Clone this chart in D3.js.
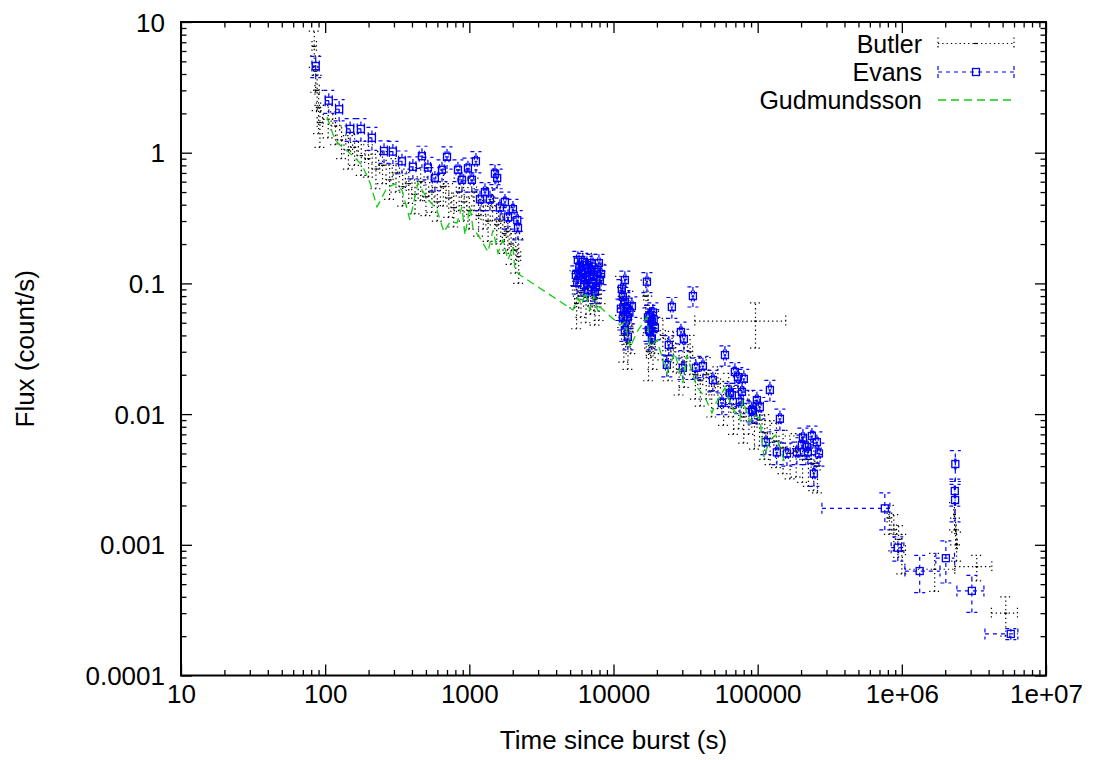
<!DOCTYPE html>
<html>
<head>
<meta charset="utf-8">
<script src="https://cdn.jsdelivr.net/npm/d3@7"></script>
<style>
  body { margin: 0; background: #fff; }
  svg text { font-family: "Liberation Sans", Arial, sans-serif; fill: #000; }
</style>
</head>
<body>
<svg id="chart" width="1098" height="760"></svg>
<script>
// ---- Axis ticks -------------------------------------------------------
const xTickValues = [10, 100, 1000, 10000, 100000, 1e6, 1e7];
const xTickLabels = ["10", "100", "1000", "10000", "100000", "1e+06", "1e+07"];
const yTickValues = [1e-4, 1e-3, 1e-2, 0.1, 1, 10];
const yTickLabels = ["0.0001", "0.001", "0.01", "0.1", "1", "10"];

const seriesNames = ["Butler", "Evans", "Gudmundsson"];

// ---- Light-curve data: [time (s), time error, flux (count/s), flux error]
// An error given as [minus, plus] is asymmetric.
const evans = [
  [86, 5, 4.6, 0.85], [106, 6, 2.5, 0.5], [125, 7, 2.15, 0.4], [149, 9, 1.52, 0.3],
  [177, 10, 1.52, 0.3], [211, 12, 1.3, 0.26], [256, 14, 1.03, 0.2], [295, 16, 1.02, 0.2],
  [341, 18, 0.86, 0.17], [406, 20, 0.78, 0.15], [469, 20, 0.94, 0.18], [516, 22, 0.77, 0.15],
  [577, 22, 0.64, 0.13], [646, 24, 0.74, 0.14], [700, 22, 0.93, 0.18], [834, 26, 0.74, 0.14],
  [889, 26, 0.62, 0.12], [978, 28, 0.76, 0.15], [1042, 28, 0.62, 0.12], [1111, 26, 0.86, 0.16],
  [1186, 30, 0.44, 0.08], [1284, 30, 0.5, 0.09], [1390, 32, 0.44, 0.08], [1506, 30, 0.69, 0.12],
  [1560, 30, 0.64, 0.11], [1630, 35, 0.38, 0.07], [1766, 36, 0.42, 0.08], [1854, 40, 0.32, 0.06],
  [2007, 40, 0.37, 0.07], [2150, 40, 0.305, 0.055], [2174, 45, 0.265, 0.05],
  // second orbit
  [5480, 110, 0.116, 0.02], [5600, 100, 0.101, 0.018], [5660, 110, 0.151, 0.025],
  [5800, 100, 0.134, 0.022], [5940, 120, 0.12, 0.02], [6050, 110, 0.125, 0.021],
  [6130, 110, 0.146, 0.024], [6250, 120, 0.097, 0.017], [6330, 110, 0.106, 0.018],
  [6540, 120, 0.138, 0.023], [6650, 120, 0.089, 0.016], [6700, 110, 0.131, 0.022],
  [6860, 130, 0.112, 0.019], [6950, 120, 0.128, 0.021], [7080, 130, 0.143, 0.024],
  [7190, 120, 0.101, 0.018], [7300, 130, 0.115, 0.02], [7430, 130, 0.086, 0.016],
  [7550, 140, 0.094, 0.017], [7670, 140, 0.122, 0.021], [7920, 150, 0.143, 0.024],
  [8050, 150, 0.106, 0.018], [8200, 150, 0.118, 0.02],
  // third orbit
  [11250, 200, 0.064, 0.012], [11430, 200, 0.091, 0.016], [11610, 220, 0.079, 0.014],
  [11610, 220, 0.054, 0.01], [11990, 220, 0.106, 0.018], [11990, 220, 0.072, 0.013],
  [11990, 230, 0.044, 0.008], [12380, 230, 0.065, 0.012], [12580, 240, 0.055, 0.01],
  [12580, 240, 0.039, 0.008], [12900, 240, 0.06, 0.011], [13420, 250, 0.067, 0.012],
  // fourth orbit
  [17060, 300, 0.103, 0.018], [17340, 300, 0.055, 0.01], [17620, 320, 0.044, 0.008],
  [17880, 320, 0.057, 0.011], [17880, 320, 0.0425, 0.008], [18460, 340, 0.051, 0.009],
  [18460, 340, 0.038, 0.007], [18750, 340, 0.06, 0.011], [19000, 350, 0.053, 0.01],
  [19360, 360, 0.046, 0.009],
  // later orbits
  [23440, 500, 0.0238, 0.0045], [24200, 500, 0.0338, 0.006], [25400, 550, 0.066, 0.012],
  [29360, 600, 0.0425, 0.008], [30270, 650, 0.0226, 0.0042], [30770, 650, 0.0376, 0.007],
  [35550, 800, 0.08, 0.014], [37300, 800, 0.0226, 0.0042], [41700, 900, 0.0233, 0.0043],
  [48900, 1100, 0.0182, 0.0034], [56500, 1300, 0.0122, 0.0023], [59300, 1300, 0.0283, 0.005],
  [64100, 1400, 0.0145, 0.0027], [66200, 1500, 0.014, 0.0026], [69500, 1500, 0.021, 0.0038],
  [72900, 1600, 0.0192, 0.0035], [75300, 1700, 0.0124, 0.0023], [77800, 1700, 0.0148, 0.0027],
  [80200, 1800, 0.0186, 0.0034], [91200, 2000, 0.0107, 0.002], [92700, 2000, 0.0104, 0.002],
  [98800, 2200, 0.0128, 0.0024], [103500, 2300, 0.0113, 0.0021], [114000, 2500, 0.0061, 0.0012],
  [121600, 2700, 0.0153, 0.0028], [135900, 3000, 0.0051, 0.001], [142600, 3200, 0.0092, 0.0017],
  [159600, 3500, 0.005, 0.001], [187100, 4000, 0.0051, 0.001], [202600, 4500, 0.0058, 0.0011],
  [206000, 4500, 0.0066, 0.0012], [219500, 4800, 0.0056, 0.0011], [222900, 4800, 0.0051, 0.001],
  [237800, 5000, 0.0068, 0.0013], [245400, 5000, 0.0035, 0.0007], [257500, 5500, 0.0061, 0.0012],
  [266000, 5500, 0.005, 0.001],
  // late time
  [762000, [483000, 64000], 0.0019, 0.0006], [938000, 95000, 0.00095, 0.0002],
  [1330000, [280000, 510000], 0.00063, 0.0002], [2020000, 300000, 0.00079, 0.00028],
  [2330000, 20000, 0.00258, 0.0006], [2340000, 20000, 0.0022, 0.0007],
  [2350000, 20000, 0.00415, 0.0011], [3060000, 650000, 0.000444, 0.00014],
  [5700000, [1930000, 680000], 0.000208, 0.00002]
];

const butler = [
  [84, 3, 6.5, 2.0], [86, 3, 4.2, 1.3], [88, 3, 3.0, 0.9], [90, 3, 2.2, 0.8],
  [92, 4, 1.7, 0.6], [105, 8, 1.8, 0.5], [118, 8, 1.6, 0.45], [130, 9, 1.25, 0.35],
  [145, 10, 1.05, 0.3], [160, 10, 1.1, 0.3], [178, 12, 0.95, 0.28], [200, 12, 0.9, 0.25],
  [225, 14, 0.75, 0.22], [250, 15, 0.8, 0.22], [280, 16, 0.62, 0.18], [310, 18, 0.7, 0.2],
  [345, 20, 0.55, 0.16], [380, 20, 0.58, 0.17], [420, 22, 0.48, 0.14], [460, 25, 0.6, 0.17],
  [500, 25, 0.46, 0.13], [550, 28, 0.5, 0.15], [600, 30, 0.42, 0.12], [660, 30, 0.55, 0.16],
  [720, 35, 0.45, 0.13], [780, 35, 0.38, 0.11], [850, 38, 0.5, 0.14], [920, 40, 0.42, 0.12],
  [1000, 40, 0.36, 0.1], [1080, 42, 0.5, 0.14], [1160, 45, 0.33, 0.1], [1250, 45, 0.36, 0.1],
  [1350, 48, 0.3, 0.09], [1450, 50, 0.42, 0.12], [1550, 50, 0.28, 0.08], [1650, 55, 0.3, 0.09],
  [1750, 55, 0.24, 0.07], [1850, 60, 0.25, 0.07], [1950, 60, 0.2, 0.06], [2100, 65, 0.18, 0.06],
  [2200, 70, 0.16, 0.06],
  [5400, 180, 0.095, 0.03], [5550, 180, 0.07, 0.025], [5700, 190, 0.12, 0.04],
  [5950, 200, 0.085, 0.03], [6200, 200, 0.11, 0.035], [6450, 210, 0.078, 0.028],
  [6600, 210, 0.13, 0.04], [6700, 220, 0.1, 0.033], [6950, 230, 0.088, 0.03],
  [7200, 230, 0.115, 0.037], [7350, 240, 0.092, 0.03], [7450, 240, 0.075, 0.027],
  [7700, 250, 0.098, 0.032], [7950, 260, 0.082, 0.03], [8200, 270, 0.105, 0.035],
  [11200, 400, 0.085, 0.028], [11600, 400, 0.07, 0.024], [11800, 420, 0.04, 0.015],
  [12000, 420, 0.06, 0.02], [12400, 440, 0.052, 0.018], [12600, 440, 0.035, 0.013],
  [12800, 450, 0.065, 0.022], [13200, 460, 0.045, 0.016],
  [16800, 600, 0.08, 0.026], [17300, 600, 0.06, 0.02], [17500, 620, 0.03, 0.012],
  [17800, 620, 0.05, 0.018], [18300, 650, 0.042, 0.015], [18800, 650, 0.035, 0.013],
  [19300, 680, 0.045, 0.016],
  [22000, 900, 0.04, 0.014], [24000, 1000, 0.028, 0.01], [26000, 1000, 0.032, 0.011],
  [28500, 1200, 0.022, 0.008], [31000, 1200, 0.025, 0.009], [34000, 1400, 0.03, 0.01],
  [37000, 1500, 0.02, 0.007], [40000, 1600, 0.018, 0.0065], [44000, 1800, 0.02, 0.007],
  [48000, 2000, 0.015, 0.0055], [53000, 2200, 0.017, 0.006], [58000, 2400, 0.013, 0.0048],
  [63000, 2600, 0.015, 0.0055], [68000, 2800, 0.011, 0.004], [74000, 3000, 0.012, 0.0043],
  [80000, 3300, 0.0095, 0.0035], [87000, 3600, 0.011, 0.004], [95000, 4000, 0.0085, 0.0031],
  [96600, 60000, 0.0515, 0.0195],
  [103000, 4300, 0.009, 0.0033], [112000, 4600, 0.0072, 0.0027], [122000, 5000, 0.0065, 0.0024],
  [135000, 5500, 0.0062, 0.0023], [150000, 6000, 0.0055, 0.002], [168000, 7000, 0.005, 0.0018],
  [185000, 7500, 0.0052, 0.0019], [205000, 8500, 0.0048, 0.0018], [225000, 9000, 0.0045, 0.0017],
  [245000, 10000, 0.0042, 0.0016], [260000, 11000, 0.004, 0.0015],
  [820000, 30000, 0.0016, 0.0004], [880000, 40000, 0.0013, 0.0004],
  [950000, 50000, 0.0011, 0.0003], [1000000, 60000, 0.0009, 0.0003],
  [1690000, 640000, 0.00065, 0.00021], [2320000, 30000, 0.0017, 0.0004],
  [2360000, 30000, 0.0013, 0.0003], [2400000, 30000, 0.001, 0.00025],
  [3310000, [980000, 900000], 0.00068, 0.00015], [5260000, 1080000, 0.0003, 0.0001]
];

// ---- Model curve: [time (s), flux (count/s)]
const gudmundsson = [
  [103, 1.875], [117, 1.251], [127, 1.145], [156, 0.944], [180, 0.805], [205, 0.586],
  [229, 0.385], [268, 0.537], [305, 0.576], [341, 0.518], [387, 0.306], [440, 0.586],
  [508, 0.45], [596, 0.365], [667, 0.247], [734, 0.295], [821, 0.29], [889, 0.385],
  [933, 0.234], [1010, 0.385], [1059, 0.265], [1186, 0.222], [1347, 0.174], [1459, 0.256],
  [1580, 0.171], [1710, 0.215], [1853, 0.151], [2006, 0.19], [2072, 0.127], [2244, 0.116],
  [5224, 0.0626], [5663, 0.0773], [6040, 0.0684], [6340, 0.0859], [6860, 0.0626],
  [7310, 0.0801], [7800, 0.0604], [8050, 0.066], [11070, 0.0481], [11990, 0.0507],
  [13000, 0.0321], [14530, 0.0425], [17060, 0.0553], [17880, 0.0326], [20000, 0.0369],
  [23440, 0.0206], [26650, 0.0294], [30270, 0.0173], [32290, 0.0283], [37880, 0.0161],
  [43030, 0.0135], [48170, 0.0102], [50510, 0.01175], [59290, 0.01585], [66240, 0.01132],
  [75340, 0.00916], [78900, 0.0128], [88300, 0.0087], [92700, 0.00984], [103600, 0.00933],
  [110400, 0.0047], [121600, 0.00634], [133700, 0.00692], [154400, 0.00423]
];

// ---- Layout ------------------------------------------------------------
const W = 1098, H = 760;
const plot = { left: 181, right: 1046, top: 22, bottom: 675.5 };
const fontSize = 26;
const legendFontSize = 25;
const colors = { butler: "#000000", evans: "#0000ff", gudmundsson: "#11cc11" };

const svg = d3.select("#chart");
svg.append("rect").attr("width", W).attr("height", H).attr("fill", "#fff");

const x = d3.scaleLog().domain([10, 1e7]).range([plot.left, plot.right]);
const y = d3.scaleLog().domain([1e-4, 10]).range([plot.bottom, plot.top]);

// minor tick positions: 2..9 within each decade
function minorTicks(domain) {
  const out = [];
  for (let e = Math.round(Math.log10(domain[0])); e < Math.round(Math.log10(domain[1])); e++) {
    for (let k = 2; k <= 9; k++) out.push(k * Math.pow(10, e));
  }
  return out;
}

const axesG = svg.append("g");

function addAxis(axisFn, scale, values, size, transform, labels) {
  const a = axisFn(scale).tickValues(values).tickSize(-size)
    .tickFormat((d, i) => labels ? labels[i] : "");
  const g = axesG.append("g").attr("transform", transform).call(a);
  g.select(".domain").remove();
  g.selectAll(".tick line").attr("stroke", "#000").attr("stroke-width", 1.3);
  g.selectAll(".tick text").attr("font-size", fontSize)
    .attr("font-family", '"Liberation Sans", Arial, sans-serif');
  return g;
}

// bottom / top
const gx = addAxis(d3.axisBottom, x, xTickValues, 11, `translate(0,${plot.bottom})`, xTickLabels);
gx.selectAll(".tick text").attr("y", 27.5).attr("dy", null);
addAxis(d3.axisBottom, x, minorTicks(x.domain()), 5.5, `translate(0,${plot.bottom})`, null);
addAxis(d3.axisTop, x, xTickValues, 11, `translate(0,${plot.top})`, null);
addAxis(d3.axisTop, x, minorTicks(x.domain()), 5.5, `translate(0,${plot.top})`, null);
// left / right
const gy = addAxis(d3.axisLeft, y, yTickValues, 11, `translate(${plot.left},0)`, yTickLabels);
gy.selectAll(".tick text").attr("x", -16).attr("dy", "0.35em");
addAxis(d3.axisLeft, y, minorTicks(y.domain()), 5.5, `translate(${plot.left},0)`, null);
addAxis(d3.axisRight, y, yTickValues, 11, `translate(${plot.right},0)`, null);
addAxis(d3.axisRight, y, minorTicks(y.domain()), 5.5, `translate(${plot.right},0)`, null);
axesG.selectAll(".tick text").filter(function () { return this.textContent === ""; }).remove();

// ---- Error bars -------------------------------------------------------
const pm = v => Array.isArray(v) ? v : [v, v];
const cap = 5.5;

function errPath(row) {
  const [t, dt, f, df] = row;
  const [tm, tp] = pm(dt), [fm, fp] = pm(df);
  const cx = x(t), cy = y(f);
  const x0 = x(t - tm), x1 = x(t + tp), y0 = y(f - fm), y1 = y(f + fp);
  const p = d3.path();
  p.moveTo(x0, cy); p.lineTo(x1, cy);
  p.moveTo(cx, y0); p.lineTo(cx, y1);
  p.moveTo(x0, cy - cap); p.lineTo(x0, cy + cap);
  p.moveTo(x1, cy - cap); p.lineTo(x1, cy + cap);
  p.moveTo(cx - cap, y0); p.lineTo(cx + cap, y0);
  p.moveTo(cx - cap, y1); p.lineTo(cx + cap, y1);
  return p.toString();
}

const dataG = svg.append("g");

// Butler: black dotted crosses with a small centre mark
const gB = dataG.append("g");
gB.selectAll("path.err").data(butler).join("path").attr("class", "err")
  .attr("d", errPath).attr("fill", "none").attr("stroke", colors.butler)
  .attr("stroke-width", 1.2).attr("stroke-dasharray", "1.3,3");
gB.selectAll("line.pt").data(butler).join("line").attr("class", "pt")
  .attr("x1", d => x(d[0]) - 1.5).attr("x2", d => x(d[0]) + 1.5)
  .attr("y1", d => y(d[2])).attr("y2", d => y(d[2]))
  .attr("stroke", colors.butler).attr("stroke-width", 1.2);

// Evans: blue dashed crosses with open squares
const sq = 7;
const gE = dataG.append("g");
gE.selectAll("path.err").data(evans).join("path").attr("class", "err")
  .attr("d", errPath).attr("fill", "none").attr("stroke", colors.evans)
  .attr("stroke-width", 1.2).attr("stroke-dasharray", "4,4");
gE.selectAll("rect.pt").data(evans).join("rect").attr("class", "pt")
  .attr("x", d => x(d[0]) - sq / 2).attr("y", d => y(d[2]) - sq / 2)
  .attr("width", sq).attr("height", sq)
  .attr("fill", "none").attr("stroke", colors.evans).attr("stroke-width", 1.3);

// Gudmundsson: green dashed model line
const line = d3.line().x(d => x(d[0])).y(d => y(d[1]));
dataG.append("path").datum(gudmundsson).attr("d", line)
  .attr("fill", "none").attr("stroke", colors.gudmundsson)
  .attr("stroke-width", 1.3).attr("stroke-dasharray", "8,5");

// ---- Border -----------------------------------------------------------
svg.append("rect")
  .attr("x", plot.left).attr("y", plot.top)
  .attr("width", plot.right - plot.left).attr("height", plot.bottom - plot.top)
  .attr("fill", "none").attr("stroke", "#000").attr("stroke-width", 2);

// ---- Axis titles --------------------------------------------------------
svg.append("text").attr("x", (plot.left + plot.right) / 2).attr("y", 749)
  .attr("text-anchor", "middle").attr("font-size", fontSize).text("Time since burst (s)");
svg.append("text")
  .attr("transform", `translate(34,${(plot.top + plot.bottom) / 2}) rotate(-90)`)
  .attr("text-anchor", "middle").attr("font-size", fontSize).text("Flux (count/s)");

// ---- Legend -----------------------------------------------------------
const legendRows = [52.5, 80.5, 108.5];
const legendLineY = [43.5, 72, 100];
const sx0 = 938, sx1 = 1014, smid = 976;
const legendG = svg.append("g");
seriesNames.forEach((name, i) => {
  legendG.append("text").attr("x", 922).attr("y", legendRows[i])
    .attr("text-anchor", "end").attr("font-size", legendFontSize).text(name);
});
// Butler sample
(function () {
  const yy = legendLineY[0];
  const p = d3.path();
  p.moveTo(sx0, yy); p.lineTo(sx1, yy);
  p.moveTo(sx0, yy - 6); p.lineTo(sx0, yy + 6);
  p.moveTo(sx1, yy - 6); p.lineTo(sx1, yy + 6);
  legendG.append("path").attr("d", p.toString()).attr("fill", "none")
    .attr("stroke", colors.butler).attr("stroke-width", 1.2).attr("stroke-dasharray", "1.3,3");
  legendG.append("line").attr("x1", smid - 2).attr("x2", smid + 2).attr("y1", yy).attr("y2", yy)
    .attr("stroke", colors.butler).attr("stroke-width", 1.2);
})();
// Evans sample
(function () {
  const yy = legendLineY[1];
  const p = d3.path();
  p.moveTo(sx0, yy); p.lineTo(sx1, yy);
  p.moveTo(sx0, yy - 6); p.lineTo(sx0, yy + 6);
  p.moveTo(sx1, yy - 6); p.lineTo(sx1, yy + 6);
  legendG.append("path").attr("d", p.toString()).attr("fill", "none")
    .attr("stroke", colors.evans).attr("stroke-width", 1.2).attr("stroke-dasharray", "4,4");
  legendG.append("rect").attr("x", smid - sq / 2).attr("y", yy - sq / 2)
    .attr("width", sq).attr("height", sq).attr("fill", "none")
    .attr("stroke", colors.evans).attr("stroke-width", 1.3);
})();
// Gudmundsson sample
legendG.append("line").attr("x1", sx0).attr("x2", sx1)
  .attr("y1", legendLineY[2]).attr("y2", legendLineY[2])
  .attr("stroke", colors.gudmundsson).attr("stroke-width", 1.3).attr("stroke-dasharray", "8,5");
</script>
</body>
</html>
